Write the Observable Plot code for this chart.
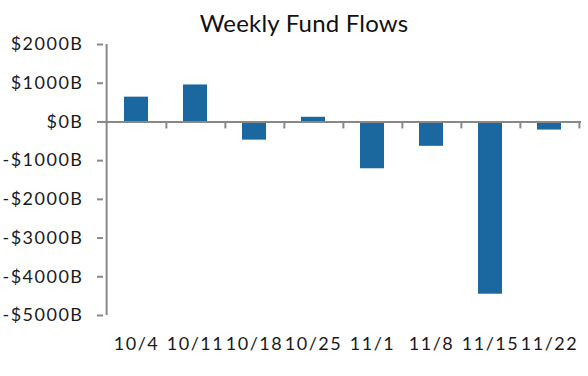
<!DOCTYPE html>
<html>
<head>
<meta charset="utf-8">
<script src="https://cdn.jsdelivr.net/npm/d3@7"></script>
<script src="https://cdn.jsdelivr.net/npm/@observablehq/plot@0.6"></script>
<style>
  html, body { margin: 0; padding: 0; background: #fff; }
  #wrap { position: relative; width: 588px; height: 376px; font-family: Lato, "Open Sans", sans-serif; }
  #title { position: absolute; top: 9px; left: 304px; transform: translateX(-50%); white-space: nowrap;
           font-size: 24px; line-height: 1.2; color: #111; letter-spacing: 0.2px; }
  #chart svg text { letter-spacing: 1.5px; }
</style>
</head>
<body>
<div id="wrap"><div id="chart"></div><div id="title">Weekly Fund Flows</div></div>
<script>
const weeks = ["10/4", "10/11", "10/18", "10/25", "11/1", "11/8", "11/15", "11/22"];
const flows = [640, 955, -470, 120, -1210, -630, -4450, -210];
const yTicks = [2000, 1000, 0, -1000, -2000, -3000, -4000, -5000];

const data = weeks.map((w, i) => ({week: w, flow: flows[i]}));

const W = 588, H = 376, mL = 103, mR = 7, mT = 44, mB = 61;
const step = (W - mL - mR) / weeks.length;
const axisColor = "#888888";
const fmt = d => d < 0 ? `-$${-d}B` : `$${d}B`;

const chart = Plot.plot({
  width: W, height: H,
  marginLeft: mL, marginRight: mR, marginTop: mT, marginBottom: mB,
  style: {fontFamily: "Lato, 'Open Sans', sans-serif", fontSize: "18px", color: "#1a1a1a", background: "#fff"},
  x: {domain: weeks, paddingInner: 0.6, paddingOuter: 0.3, label: null},
  y: {domain: [-5000, 2000], label: null},
  marks: [
    Plot.barY(data, {x: "week", y: "flow", fill: "#1b679f"}),
    Plot.ruleY([0], {stroke: axisColor, strokeWidth: 2}),
    Plot.ruleX(weeks, {x: d => d, dx: step / 2, y1: 0, y2: 0, insetBottom: -7, stroke: axisColor, strokeWidth: 2}),
    Plot.ruleX([weeks[0]], {x: d => d, dx: -step / 2, y1: d3.max(yTicks), y2: d3.min(yTicks), stroke: axisColor, strokeWidth: 2}),
    Plot.axisY(yTicks, {tickFormat: fmt, tickSize: 6, tickPadding: 14, stroke: axisColor, strokeWidth: 2, strokeOpacity: 1, fill: "#1a1a1a"}),
    Plot.axisX({anchor: "bottom", tickSize: 0, tickPadding: 22, fill: "#1a1a1a"})
  ]
});
document.getElementById("chart").appendChild(chart);
</script>
</body>
</html>
